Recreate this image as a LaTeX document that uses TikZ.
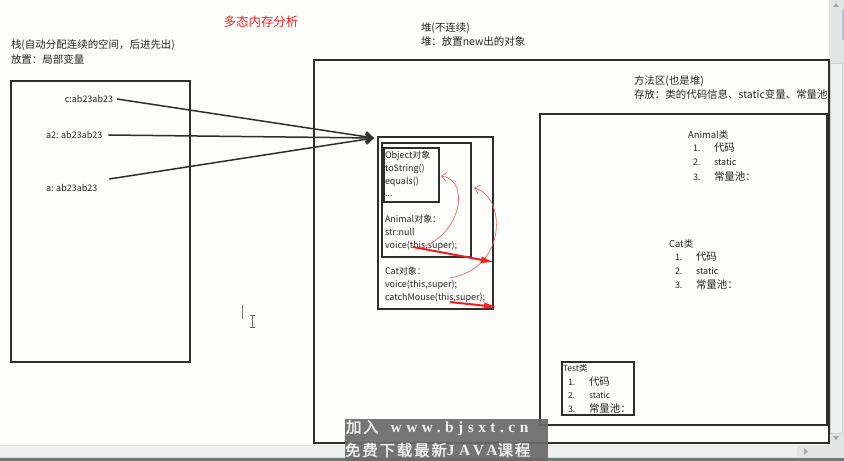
\documentclass[tikz,border=0pt]{standalone}
\usepackage{fontspec}
\setmainfont{Noto Sans CJK SC}
\newfontfamily\wmcjk[FakeBold=2,LetterSpace=12]{Noto Sans CJK SC}
\newfontfamily\wmlat[LetterSpace=29]{Liberation Serif}
\usetikzlibrary{arrows.meta,calc}
\definecolor{frame}{HTML}{2E2E2E}
\definecolor{hand}{HTML}{F01E1E}
\definecolor{pencil}{HTML}{E46A6A}
\definecolor{paper}{HTML}{FDFDFC}
\definecolor{chrome}{HTML}{E2E4E4}
\definecolor{chromethumb}{HTML}{EEEFEF}
\definecolor{chromedark}{HTML}{6E7A77}
\definecolor{badge}{HTML}{6A6A6A}
\begin{document}
\begin{tikzpicture}[x=1bp,y=-1bp,
  region/.style={draw=frame,line width=1.5bp,anchor=north west,inner sep=0pt,outer sep=0pt},
  lbl/.style={anchor=west,inner sep=0pt,outer sep=0pt},
  s9/.style={lbl,text=black!85,font=\fontsize{9}{10}\selectfont,text height=7.9bp,text depth=1.1bp},
  s10/.style={lbl,text=black!85,font=\fontsize{10.5}{12}\selectfont,text height=9.2bp,text depth=1.3bp},
  ptr/.style={draw=frame,line width=1.5bp,-{Straight Barb[length=7bp,width=10bp,line width=1.4bp]}},
  link/.style={draw=pencil,line width=0.7bp,-{Straight Barb[length=5bp,width=9bp,line width=0.7bp]}},
  push/.style={draw=hand,line width=2bp,-{Triangle[length=12bp,width=6bp]}},
]
\useasboundingbox (0,0) rectangle (844,461);
\fill[paper] (0,0) rectangle (844,461);

% window chrome: scroll bars
\fill[chrome] (829,0) rectangle (844,447);
\draw[chromethumb!70!gray,fill=chromethumb] (830.5,63) rectangle (842.5,433);
\fill[gray!70] (833,7) -- (839,7) -- (836,3) -- cycle;
\fill[gray!70] (833,436) -- (839,436) -- (836,440) -- cycle;
\fill[blue!30!gray!40] (842,10) rectangle (844,40);
\fill[chrome] (0,445) rectangle (844,458);
\fill[chromethumb] (0,446) rectangle (797,457);
\fill[gray!70] (804,448) -- (804,455) -- (808,451.5) -- cycle;
\fill[chromedark] (0,458) rectangle (844,461);

% title
\node[lbl,anchor=center,text=hand,font=\fontsize{12.5}{14}\selectfont] (title) at (261,22) {多态内存分析};

% stack
\node[s10] (stackA) at (11,45) {栈(自动分配连续的空间，后进先出)};
\node[s10] (stackB) at (11,60) {放置：局部变量};
\node[region,minimum width=179bp,minimum height=281bp] (stack) at (11,81) {};
\node[s9,anchor=east] (c) at (113,99) {c:ab23ab23};
\node[s9] (a2) at (46,135) {a2: ab23ab23};
\node[s9] (a) at (46,188) {a: ab23ab23};

% heap
\node[s10] (heapA) at (421,28) {堆(不连续)};
\node[s10] (heapB) at (421,42) {堆：放置new出的对象};
\node[region,minimum width=515bp,minimum height=383bp] (heap) at (314,60) {};

% objects on the heap
\node[region,minimum width=115bp,minimum height=172bp] (catobj) at (378,137) {};
\node[region,minimum width=89bp,minimum height=114bp] (animalobj) at (382,143) {};
\node[region,minimum width=55bp,minimum height=54bp] (objectobj) at (384,148) {};
\node[s9] (o1) at (385,155) {Object对象};
\node[s9] (o2) at (385,168) {toString()};
\node[s9] (o3) at (385,181) {equals()};
\node[s9] (o4) at (385,193) {...};
\node[s9] (n1) at (385,219) {Animal对象：};
\node[s9] (n2) at (385,232) {str:null};
\node[s9] (n3) at (385,245) {voice(this,super);};
\node[s9] (t1) at (385,271) {Cat对象：};
\node[s9] (t2) at (385,284) {voice(this,super);};
\node[s9] (t3) at (385,297) {catchMouse(this,super);};

% method area
\node[s10] (methA) at (634,81) {方法区(也是堆)};
\node[s10] (methB) at (634,95) {存放：类的代码信息、static变量、常量池};
\node[region,minimum width=287bp,minimum height=311bp] (method) at (540,114) {};

\node[s9,font=\fontsize{9.5}{11}\selectfont] (animalcls) at (688,135) {Animal类};
\node[s9] (an1) at (693,148) {1.};
\node[s10] (ai1) at (714,148) {代码};
\node[s9] (an2) at (693,162) {2.};
\node[s9] (ai2) at (714,162) {static};
\node[s9] (an3) at (693,177) {3.};
\node[s10] (ai3) at (714,177) {常量池：};

\node[s9,font=\fontsize{9.5}{11}\selectfont] (catcls) at (669,244) {Cat类};
\node[s9] (cn1) at (675,257) {1.};
\node[s10] (ci1) at (696,257) {代码};
\node[s9] (cn2) at (675,271) {2.};
\node[s9] (ci2) at (696,271) {static};
\node[s9] (cn3) at (675,285) {3.};
\node[s10] (ci3) at (696,285) {常量池：};

\node[region,minimum width=72bp,minimum height=53bp] (testcls) at (562,362) {};
\node[s9,font=\fontsize{8.5}{10}\selectfont] (tt) at (563,368) {Test类};
\node[s9] (tn1) at (568,382) {1.};
\node[s10] (ti1) at (589,382) {代码};
\node[s9,font=\fontsize{8.5}{10}\selectfont] (tn2) at (568,395) {2.};
\node[s9,font=\fontsize{8.5}{10}\selectfont] (ti2) at (589,395) {static};
\node[s9] (tn3) at (568,409) {3.};
\node[s10] (ti3) at (589,409) {常量池：};

% references from the stack into the heap
\coordinate (tip) at (374,138);
\draw[ptr] ([xshift=4bp]c.east) -- (tip);
\draw[ptr] ([xshift=6bp]a2.east) -- (tip);
\draw[ptr] ([xshift=12bp,yshift=9bp]a.east) -- (tip);

% super calls, sketched in red
\coordinate (s1) at (423,247);
\coordinate (e1) at (441,176);
\coordinate (s2) at (450,278);
\coordinate (e2) at (474,188);
\draw[link] (s1) .. controls (462,232) and (470,180) .. (e1);
\draw[link] (s2) .. controls (508,268) and (506,196) .. (e2);
\coordinate (p1) at (413,247);
\coordinate (q1) at (493,262);
\coordinate (p2) at (450,302);
\coordinate (q2) at (496,307);
\draw[push] (p1) -- (q1);
\draw[push] (p2) -- (q2);

% text cursor
\draw[gray,line width=1bp] (242,305) -- (242,319);
\draw[gray!80!black,line width=0.8bp] (252,315) -- (252,327) (249.5,315) -- (254.5,315) (249.5,327) -- (254.5,327);

% watermark badge
\begin{scope}
\clip (345,419) rectangle (548,461);
\fill[badge,opacity=0.92] (345,419) rectangle (548,461);
\node[lbl,text=white!94!black,font=\fontsize{15.5}{18}\selectfont] (wm1) at (346,428)
  {{\wmcjk 加入}\hspace{12bp}{\wmlat\bfseries www.bjsxt.cn}};
\node[lbl,text=white!94!black,font=\fontsize{15.5}{18}\selectfont] (wm2) at (345,450)
  {{\wmcjk 免费下载最新}{\wmlat\bfseries JAVA}{\wmcjk 课程}};
\end{scope}
\end{tikzpicture}
\end{document}
